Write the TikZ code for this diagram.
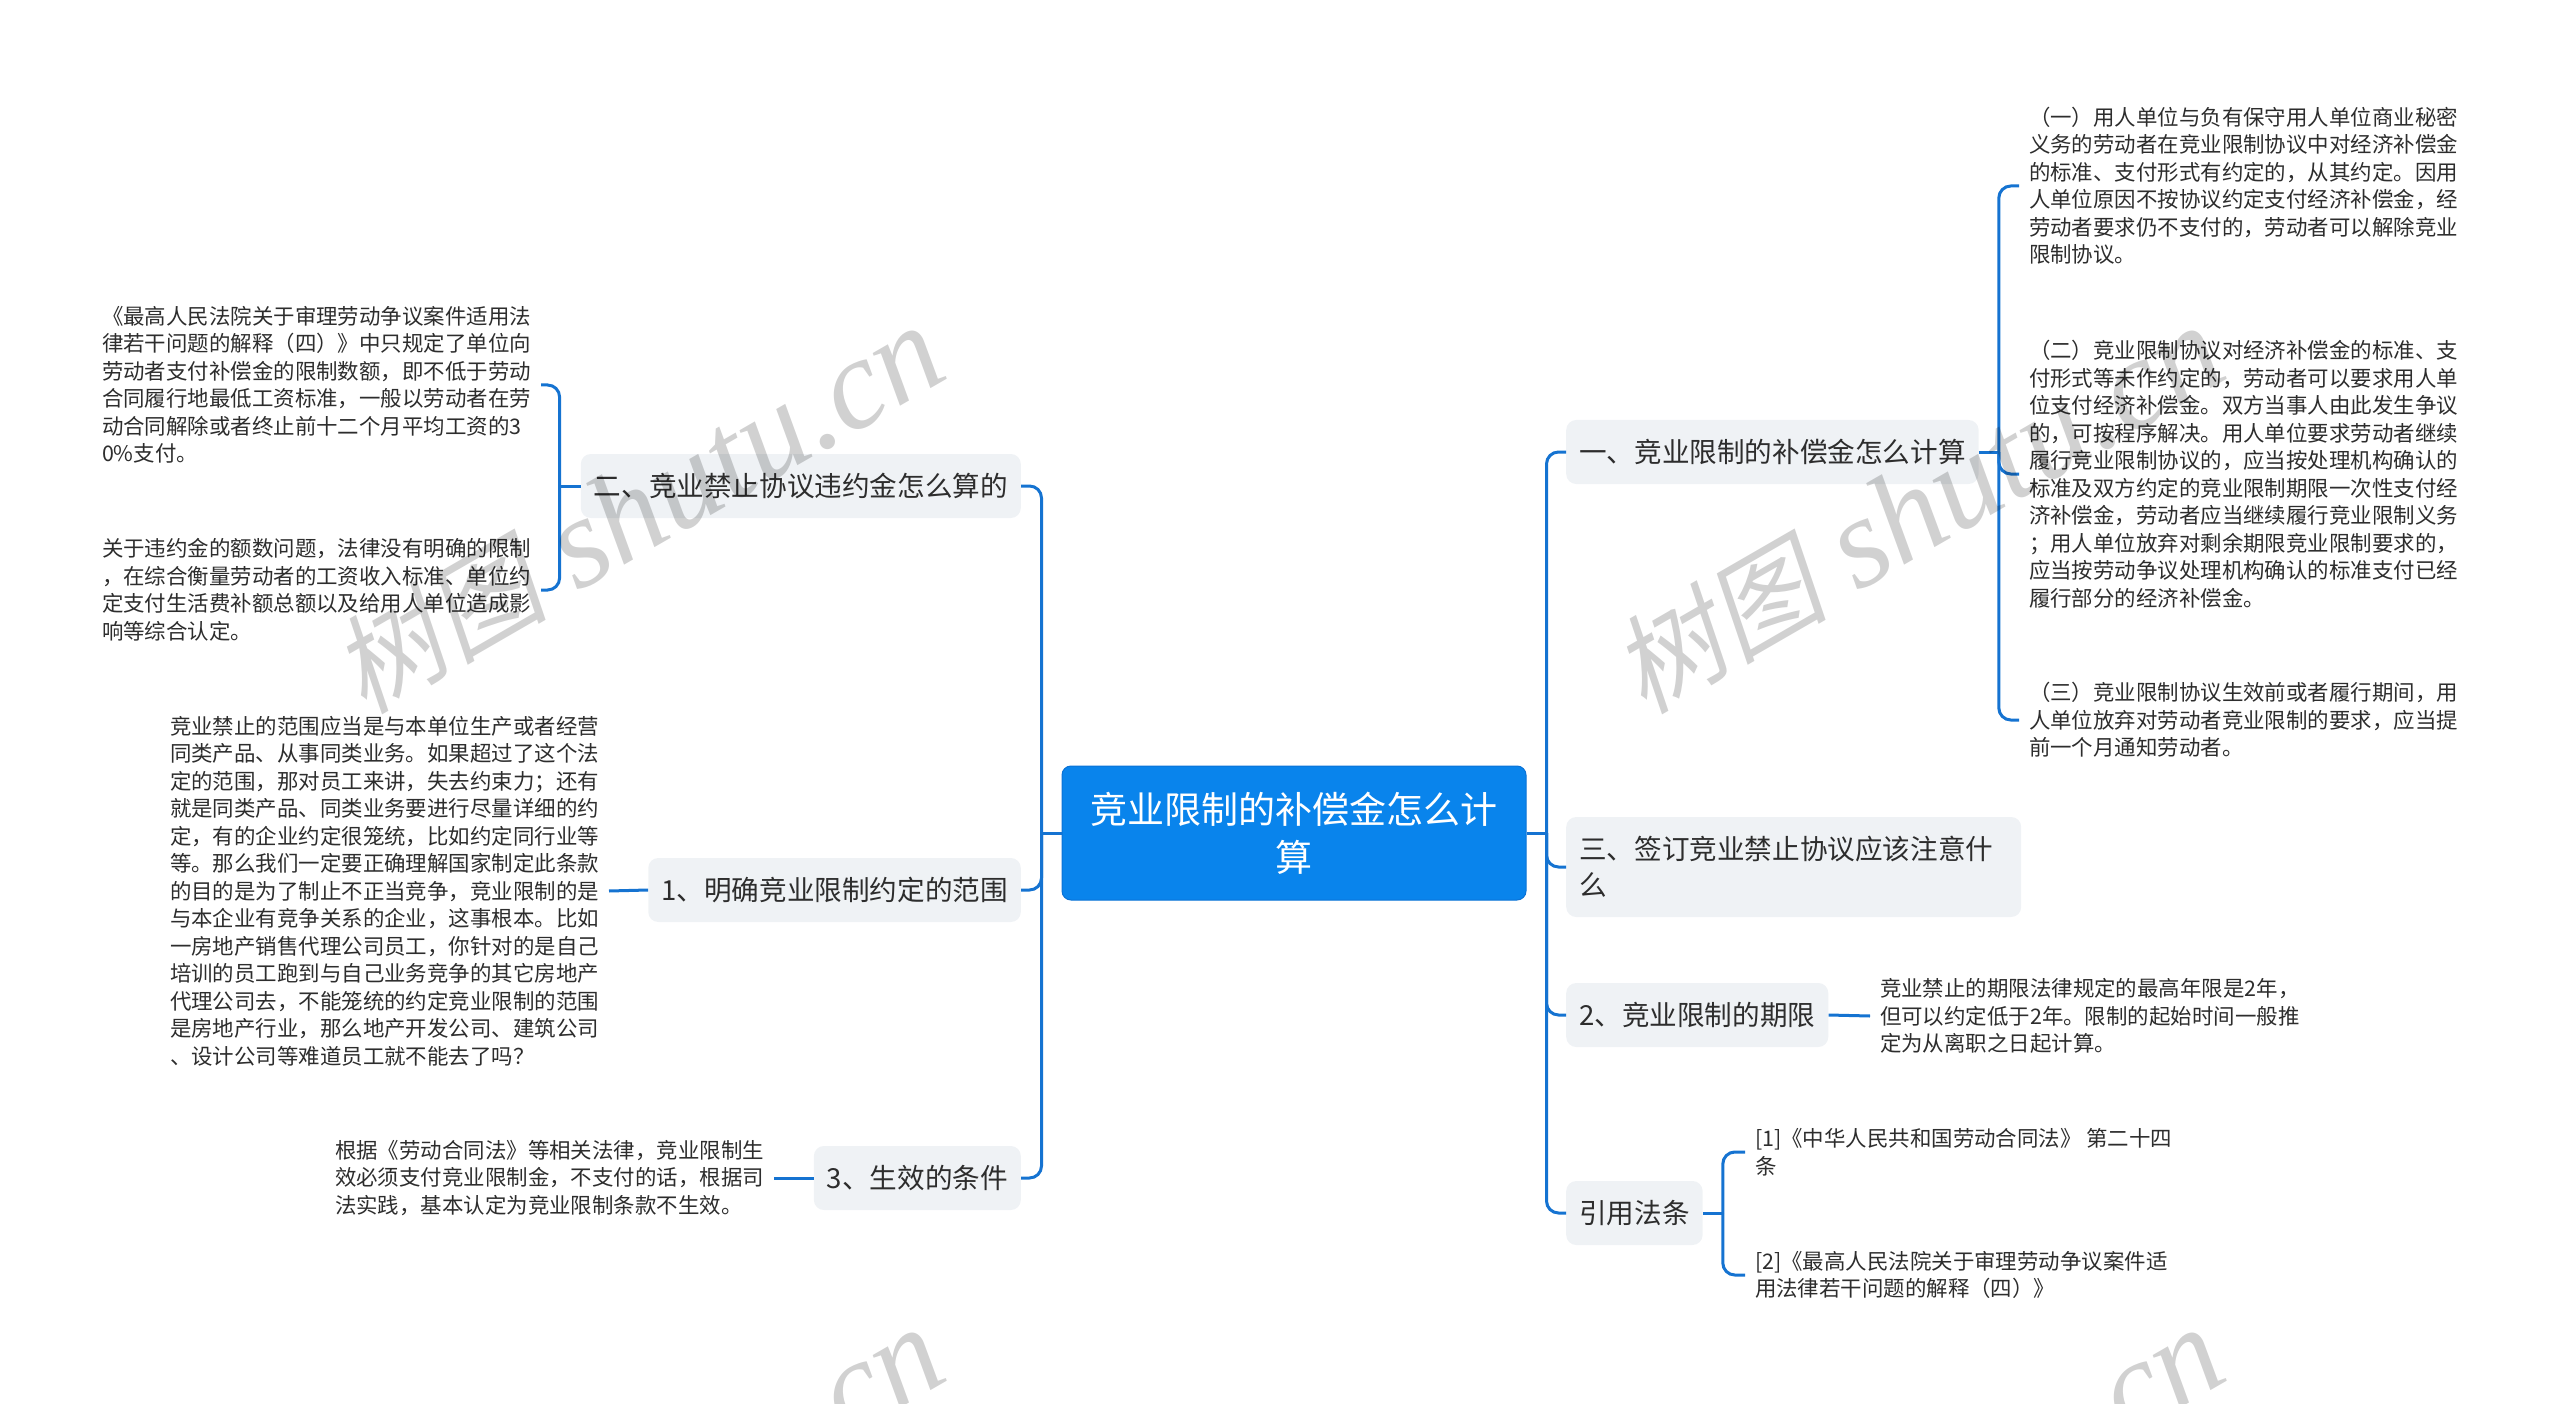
\documentclass[tikz,border=0pt]{standalone}
\usepackage{fontspec}
\setmainfont{Noto Sans CJK SC}
\newfontfamily\markcjk[FakeSlant=0.2]{Noto Sans CJK SC}
\newfontfamily\marklatin{Liberation Serif}
\usetikzlibrary{positioning,calc}
\definecolor{linkblue}{RGB}{21,115,209}
\definecolor{rootblue}{RGB}{9,132,236}
\definecolor{rootedge}{RGB}{10,114,214}
\definecolor{topicgray}{RGB}{239,242,245}
\definecolor{inkgray}{RGB}{45,45,45}
\tikzset{
    rootbox/.style={fill=rootblue, draw=rootedge, line width=1pt, rounded corners=9pt, text=white,
        minimum width=464pt, minimum height=134pt, text width=430pt, align=center, inner sep=0pt,
        font=\fontsize{37}{48}\selectfont},
    topicbox/.style={fill=topicgray, rounded corners=10pt, text=inkgray, minimum height=64pt,
        inner xsep=13pt, inner ysep=0pt, align=left, font=\fontsize{27.6}{36}\selectfont},
    leaftext/.style={text=inkgray, inner sep=0pt, outer xsep=10pt, outer ysep=0pt, anchor=west, align=left,
        font=\fontsize{21.45}{27.5}\selectfont},
    linkline/.style={draw=linkblue, line width=3pt, rounded corners=12pt},
    markword/.style={black, opacity=0.18, rotate=30, anchor=base west, inner sep=0pt}
}
\begin{document}
\begin{tikzpicture}[x=1pt,y=-1pt]
    \useasboundingbox (0,0) rectangle (2560,1404);
    % Centre and first level
    \node[rootbox] (root) at (1294,833) {竞业限制的补偿金怎么计\\算};
    \node[topicbox, anchor=east] (two) at (1021,486) {二、竞业禁止协议违约金怎么算的};
    \node[topicbox, anchor=east] (scope) at (1021,890) {1、明确竞业限制约定的范围};
    \node[topicbox, anchor=east] (effect) at (1021,1178) {3、生效的条件};
    \node[topicbox, anchor=west] (one) at (1566,452) {一、竞业限制的补偿金怎么计算};
    \node[topicbox, anchor=west, minimum height=100pt, text width=429pt] (three) at (1566,867) {三、签订竞业禁止协议应该注意什\\么};
    \node[topicbox, anchor=west] (term) at (1566,1015) {2、竞业限制的期限};
    \node[topicbox, anchor=west] (cite) at (1566,1213) {引用法条};
    % Left leaves
    \node[leaftext] (twoa) at (92,385) {《最高人民法院关于审理劳动争议案件适用法\\律若干问题的解释（四）》中只规定了单位向\\劳动者支付补偿金的限制数额，即不低于劳动\\合同履行地最低工资标准，一般以劳动者在劳\\动合同解除或者终止前十二个月平均工资的3\\0\%支付。};
    \node[leaftext] (twob) at (92,590) {关于违约金的额数问题，法律没有明确的限制\\，在综合衡量劳动者的工资收入标准、单位约\\定支付生活费补额总额以及给用人单位造成影\\响等综合认定。};
    \node[leaftext] (scopea) at (160,891) {竞业禁止的范围应当是与本单位生产或者经营\\同类产品、从事同类业务。如果超过了这个法\\定的范围，那对员工来讲，失去约束力；还有\\就是同类产品、同类业务要进行尽量详细的约\\定，有的企业约定很笼统，比如约定同行业等\\等。那么我们一定要正确理解国家制定此条款\\的目的是为了制止不正当竞争，竞业限制的是\\与本企业有竞争关系的企业，这事根本。比如\\一房地产销售代理公司员工，你针对的是自己\\培训的员工跑到与自己业务竞争的其它房地产\\代理公司去，不能笼统的约定竞业限制的范围\\是房地产行业，那么地产开发公司、建筑公司\\、设计公司等难道员工就不能去了吗？};
    \node[leaftext] (effecta) at (325,1178) {根据《劳动合同法》等相关法律，竞业限制生\\效必须支付竞业限制金，不支付的话，根据司\\法实践，基本认定为竞业限制条款不生效。};
    % Right leaves
    \node[leaftext] (onea) at (2019,186) {（一）用人单位与负有保守用人单位商业秘密\\义务的劳动者在竞业限制协议中对经济补偿金\\的标准、支付形式有约定的，从其约定。因用\\人单位原因不按协议约定支付经济补偿金，经\\劳动者要求仍不支付的，劳动者可以解除竞业\\限制协议。};
    \node[leaftext] (oneb) at (2019,474) {（二）竞业限制协议对经济补偿金的标准、支\\付形式等未作约定的，劳动者可以要求用人单\\位支付经济补偿金。双方当事人由此发生争议\\的，可按程序解决。用人单位要求劳动者继续\\履行竞业限制协议的，应当按处理机构确认的\\标准及双方约定的竞业限制期限一次性支付经\\济补偿金，劳动者应当继续履行竞业限制义务\\；用人单位放弃对剩余期限竞业限制要求的，\\应当按劳动争议处理机构确认的标准支付已经\\履行部分的经济补偿金。};
    \node[leaftext] (onec) at (2019,720) {（三）竞业限制协议生效前或者履行期间，用\\人单位放弃对劳动者竞业限制的要求，应当提\\前一个月通知劳动者。};
    \node[leaftext] (terma) at (1870,1016) {竞业禁止的期限法律规定的最高年限是2年，\\但可以约定低于2年。限制的起始时间一般推\\定为从离职之日起计算。};
    \node[leaftext] (citea) at (1745,1152) {[1]《中华人民共和国劳动合同法》 第二十四\\条};
    \node[leaftext] (citeb) at (1745,1275) {[2]《最高人民法院关于审理劳动争议案件适\\用法律若干问题的解释（四）》};
    % Joints of the brackets
    \coordinate (rootleft) at ([xshift=-20pt]root.west);
    \coordinate (rootright) at ([xshift=20pt]root.east);
    \coordinate (twojoint) at ([xshift=-21pt]two.west);
    \coordinate (onejoint) at ([xshift=20pt]one.east);
    \coordinate (citejoint) at ([xshift=20pt]cite.east);
    % Connectors
    \draw[linkline] (root.west) -- (rootleft);
    \draw[linkline] (root.east) -- (rootright);
    \foreach \kid in {two,scope,effect} {
        \draw[linkline] (rootleft) -- (rootleft |- \kid.east) -- (\kid.east);
    }
    \foreach \kid in {one,three,term,cite} {
        \draw[linkline] (rootright) -- (rootright |- \kid.west) -- (\kid.west);
    }
    \draw[linkline] (two.west) -- (twojoint);
    \foreach \kid in {twoa,twob} {
        \draw[linkline] (twojoint) -- (twojoint |- \kid.east) -- (\kid.east);
    }
    \draw[linkline] (one.east) -- (onejoint);
    \foreach \kid in {onea,oneb,onec} {
        \draw[linkline] (onejoint) -- (onejoint |- \kid.west) -- (\kid.west);
    }
    \draw[linkline] (cite.east) -- (citejoint);
    \foreach \kid in {citea,citeb} {
        \draw[linkline] (citejoint) -- (citejoint |- \kid.west) -- (\kid.west);
    }
    \draw[linkline] (scope.west) -- (scopea.east);
    \draw[linkline] (effect.west) -- (effecta.east);
    \draw[linkline] (term.east) -- (terma.west);
    % Watermark
    \foreach \mx/\my in {364/716,1644/716,364/1718,1644/1718} {
        \node[markword] (mark\mx\my) at (\mx,\my) {\markcjk\fontsize{108}{108}\selectfont 树图\hspace{30pt}\marklatin\itshape\fontsize{129}{129}\selectfont shutu.cn};
    }
\end{tikzpicture}
\end{document}
